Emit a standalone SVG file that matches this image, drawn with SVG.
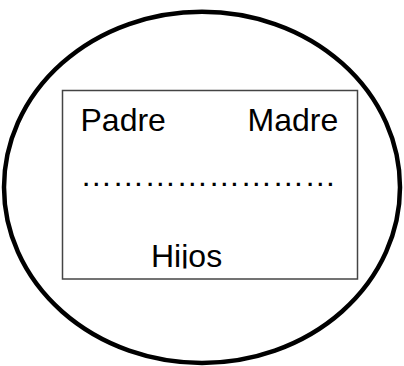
<svg xmlns="http://www.w3.org/2000/svg" width="404" height="366" viewBox="0 0 404 366">
  <style>
    .lbl { font-family: "Liberation Sans", Arial, sans-serif; font-size: 32px; fill: #000; }
  </style>
  <defs>
    <clipPath id="hijosClip">
      <rect x="62" y="230" width="296" height="38.5"/>
    </clipPath>
  </defs>
  <rect width="404" height="366" fill="#fff"/>
  <g id="outer">
    <ellipse cx="202" cy="187.3" rx="198" ry="175.6" fill="none" stroke="#000" stroke-width="4.5"/>
  </g>
  <g id="family">
    <rect x="62.5" y="90.5" width="295" height="188.5" fill="#fff" stroke="#444" stroke-width="1.5"/>
  </g>
  <g id="padre">
    <text class="lbl" x="80.5" y="130.5">Padre</text>
  </g>
  <g id="madre">
    <text class="lbl" x="247.5" y="130.5">Madre</text>
  </g>
  <g id="dots">
    <text class="lbl" x="80.3" y="186">……………………</text>
  </g>
  <g id="hijos">
    <text class="lbl" x="151" y="266.5" clip-path="url(#hijosClip)">Hijos</text>
  </g>
  <g id="connectors"></g>
</svg>
